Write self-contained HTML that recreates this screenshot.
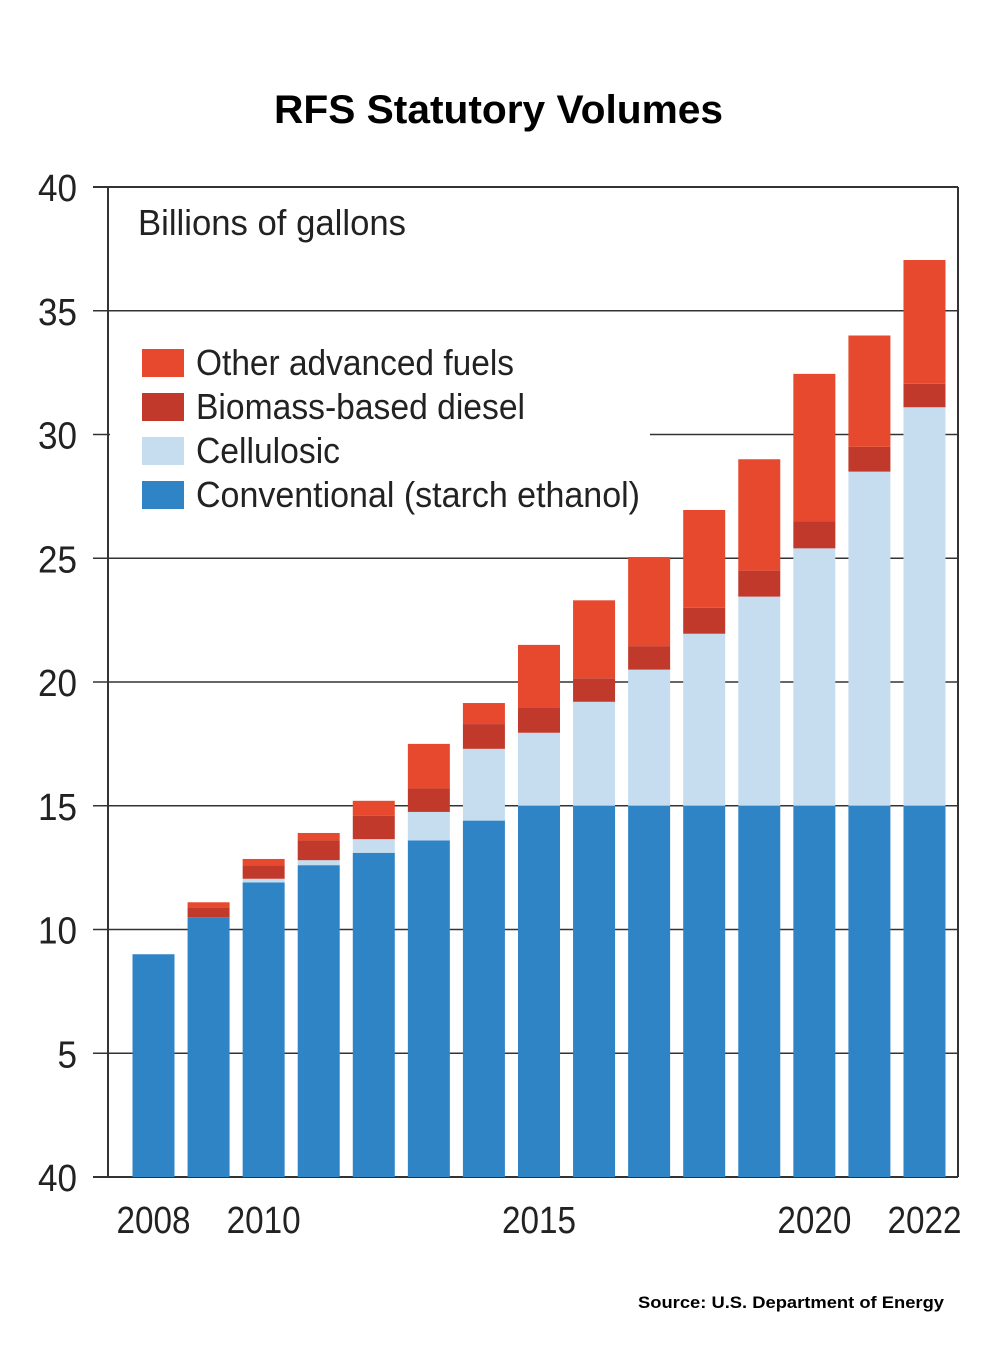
<!DOCTYPE html>
<html><head><meta charset="utf-8"><style>
html,body{margin:0;padding:0;background:#fff;}
svg{display:block;}
text{font-family:"Liberation Sans",sans-serif;}
</style></head><body>
<svg id="chart" width="998" height="1345" viewBox="0 0 998 1345">
<text x="274" y="123" textLength="449" lengthAdjust="spacingAndGlyphs" font-size="40" font-weight="bold" fill="#000">RFS Statutory Volumes</text>
<g id="grid"></g>
<g id="bars"></g>
<rect x="110" y="330" width="540" height="190" fill="#fff"/>
<line x1="108" y1="187" x2="108" y2="1177" stroke="#333" stroke-width="2"/>
<line x1="958" y1="187" x2="958" y2="1177" stroke="#333" stroke-width="2"/>
<text x="138" y="235" textLength="268" lengthAdjust="spacingAndGlyphs" font-size="36" fill="#222">Billions of gallons</text>
<g id="legend"></g>
<g id="yticks"></g>
<g id="xticks"></g>
<text x="638" y="1308" textLength="306" lengthAdjust="spacingAndGlyphs" font-size="17" font-weight="bold" fill="#000">Source: U.S. Department of Energy</text>
</svg>
<script>
const years = [2008,2009,2010,2011,2012,2013,2014,2015,2016,2017,2018,2019,2020,2021,2022];
const conventional = [9.0,10.5,11.9,12.6,13.1,13.6,14.4,15,15,15,15,15,15,15,15];
const cellulosic = [0,0,0.15,0.2,0.55,1.15,2.9,2.95,4.2,5.5,6.95,8.45,10.4,13.5,16.1];
const biomassDiesel = [0,0.4,0.55,0.8,0.95,0.95,1.0,1.0,0.95,0.95,1.05,1.05,1.1,1.0,0.95];
const otherAdvanced = [0,0.2,0.25,0.3,0.6,1.8,0.85,2.55,3.15,3.6,3.95,4.5,5.95,4.5,5.0];
const yTickValues = [0,5,10,15,20,25,30,35,40];
const yTickLabels = ["40","5","10","15","20","25","30","35","40"];
const xLabelYears = [2008,2010,2015,2020,2022];
const seriesNames = ["Other advanced fuels","Biomass-based diesel","Cellulosic","Conventional (starch ethanol)"];

const NS="http://www.w3.org/2000/svg";
const y0=1177, pxPerUnit=24.75;
const yScale=v=>y0-v*pxPerUnit;
const xCenter=yr=>153.5+(yr-2008)*55.07;
const barW=42;
const colors={conv:"#2f84c6",cell:"#c6ddf0",bbd:"#c0392b",oth:"#e6492d"};
const legendWidths=[318,329,144,444];
function mk(tag,attrs,parent){const e=document.createElementNS(NS,tag);for(const k in attrs)e.setAttribute(k,attrs[k]);parent.appendChild(e);return e;}

const grid=document.getElementById('grid');
yTickValues.forEach(v=>{
  const l=mk('line',{x1:93,x2:958,y1:yScale(v),y2:yScale(v),stroke:"#333","stroke-width":v===0||v===40?2:1.6},grid);
  
  
});
const yt=document.getElementById('yticks');
yTickValues.forEach((v,i)=>{
  const lab=yTickLabels[i];
  const w=lab.length*19.5;
  const t=mk('text',{x:77-w,y:yScale(v)+14,textLength:w,lengthAdjust:"spacingAndGlyphs","font-size":38,fill:"#222"},yt);
  t.textContent=lab;
  
  
});
const xt=document.getElementById('xticks');
xLabelYears.forEach(yr=>{
  const t=mk('text',{x:xCenter(yr)-37,y:1233,textLength:74,lengthAdjust:"spacingAndGlyphs","font-size":38,fill:"#222"},xt);
  t.textContent=yr;
  
  
});
const bars=document.getElementById('bars');
years.forEach((yr,i)=>{
  const segs=[[conventional[i],colors.conv,'conventional'],[cellulosic[i],colors.cell,'cellulosic'],[biomassDiesel[i],colors.bbd,'biomass-diesel'],[otherAdvanced[i],colors.oth,'other-advanced']];
  let base=0;
  segs.forEach(([v,c,n])=>{
    if(v<=0)return;
    const r=mk('rect',{x:xCenter(yr)-barW/2,y:yScale(base+v),width:barW,height:v*pxPerUnit,fill:c},bars);
    
    
    base+=v;
  });
});
const lg=document.getElementById('legend');
const legColors=[colors.oth,colors.bbd,colors.cell,colors.conv];
seriesNames.forEach((n,i)=>{
  const y=349+i*44;
  const r=mk('rect',{x:142,y:y,width:42,height:28,fill:legColors[i]},lg);
  
  
  const t=mk('text',{x:196,y:y+26,textLength:legendWidths[i],lengthAdjust:"spacingAndGlyphs","font-size":36,fill:"#222"},lg);
  t.textContent=n;
  
  
});
</script>
</body></html>
